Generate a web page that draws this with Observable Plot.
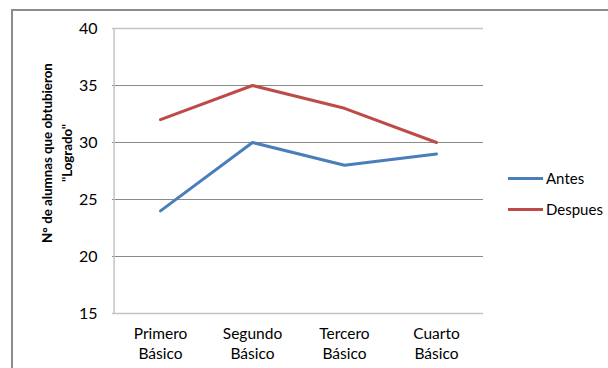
<!DOCTYPE html>
<html>
<head>
<meta charset="utf-8">
<script src="https://cdn.jsdelivr.net/npm/d3@7"></script>
<script src="https://cdn.jsdelivr.net/npm/@observablehq/plot@0.6"></script>
<style>
  html, body { margin: 0; padding: 0; background: #fff; }
  #wrap { position: relative; width: 608px; height: 368px; overflow: hidden; font-family: Lato, "Open Sans", sans-serif; }
  #frame { position: absolute; left: 11px; top: 9px; right: -4px; bottom: -4px; border-top: 2px solid #8c8c8c; border-left: 2px solid #8c8c8c; }
  #chart { position: absolute; left: 0; top: 0; }
  .leg { position: absolute; left: 508px; font-size: 15px; color: #000; display: flex; align-items: center; }
  .leg .sw { width: 35px; height: 3px; margin-right: 3px; }
</style>
</head>
<body>
<div id="wrap">
  <div id="frame"></div>
  <div id="chart"></div>
  <div id="legend"></div>
</div>
<script>
const categories = ["Primero Básico", "Segundo Básico", "Tercero Básico", "Cuarto Básico"];
const seriesNames = ["Antes", "Despues"];
const antes = [24, 30, 28, 29];
const despues = [32, 35, 33, 30];
const yTicks = [15, 20, 25, 30, 35, 40];
const yTitle = "N° de alumnas que obtubieron\n\"Logrado\"";
const colors = ["#4A7EBB", "#BE4B48"];

const rows = [];
categories.forEach((c, i) => {
  rows.push({cat: c, serie: seriesNames[0], value: antes[i]});
  rows.push({cat: c, serie: seriesNames[1], value: despues[i]});
});

const chart = Plot.plot({
  width: 608,
  height: 368,
  marginLeft: 112,
  marginRight: 125,
  marginTop: 28,
  marginBottom: 55,
  style: {fontFamily: "Lato, 'Open Sans', sans-serif", fontSize: "15px", color: "#000", background: "transparent", overflow: "visible"},
  x: {type: "point", domain: categories, padding: 0.5, label: null},
  y: {domain: [15, 40], ticks: yTicks, label: null},
  color: {domain: seriesNames, range: colors},
  marks: [
    Plot.ruleY(yTicks.slice(1, -1), {stroke: "#8a8a8a", strokeWidth: 1}),
    Plot.ruleY([yTicks[0], yTicks[yTicks.length - 1]], {stroke: "#c4c4c4", strokeWidth: 1.5}),
    Plot.ruleX([categories[0]], {stroke: "#c4c4c4", strokeWidth: 1.5, dx: -46.4, y1: 15, y2: 40}),
    Plot.axisY({ticks: yTicks, tickSize: 0, tickPadding: 15, fontSize: 16, label: null}),
    Plot.axisX({tickSize: 0, tickPadding: 11, fontSize: 15.5, lineHeight: 1.3, tickFormat: d => d.replace(" ", "\n"), label: null}),
    Plot.line(rows, {x: "cat", y: "value", z: "serie", stroke: "serie", strokeWidth: 3, strokeLinejoin: "round", strokeLinecap: "round"}),
    Plot.text([yTitle], {text: d => d, frameAnchor: "left", textAnchor: "middle", lineAnchor: "middle", rotate: -90, dx: -57, dy: -18, fontWeight: "bold", fontSize: 13.3, lineHeight: 1.5, fill: "#000"})
  ]
});
document.getElementById("chart").appendChild(chart);

const legend = document.getElementById("legend");
const legY = [178, 209];
seriesNames.forEach((s, i) => {
  const d = document.createElement("div");
  d.className = "leg";
  d.style.top = (legY[i] - 10) + "px";
  d.style.height = "20px";
  d.innerHTML = `<span class="sw" style="background:${colors[i]}"></span><span>${s}</span>`;
  legend.appendChild(d);
});
</script>
</body>
</html>
